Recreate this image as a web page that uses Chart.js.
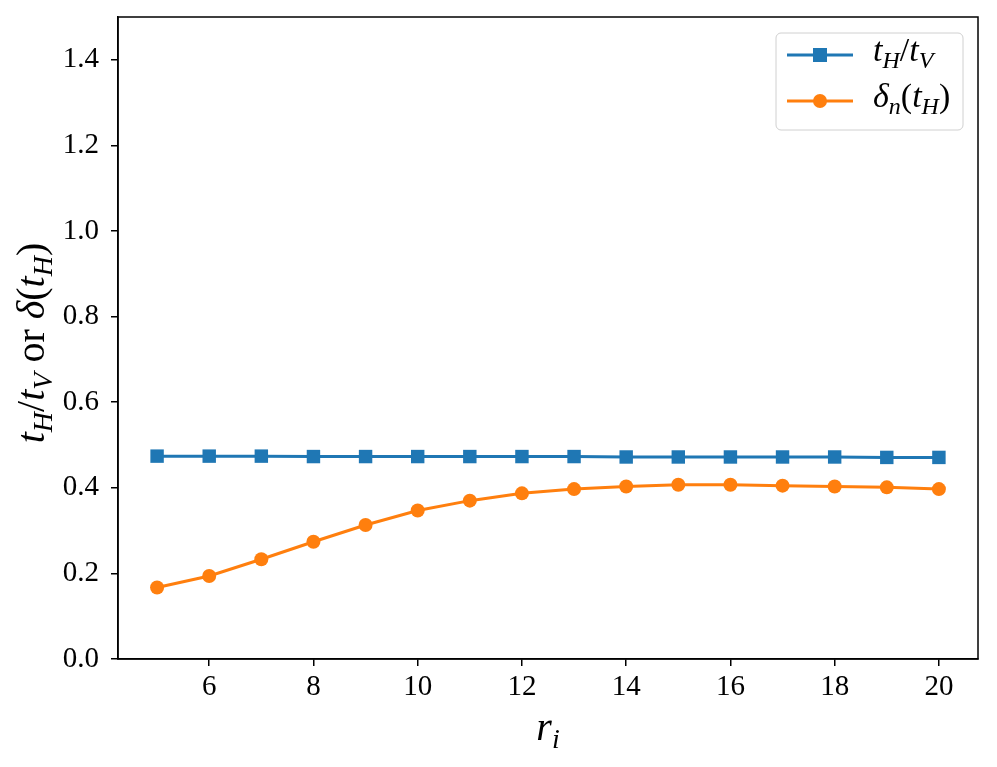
<!DOCTYPE html>
<html>
<head>
<meta charset="utf-8">
<script src="https://cdn.jsdelivr.net/npm/chart.js@4.4.1/dist/chart.umd.min.js"></script>
<style>
  html, body { margin: 0; padding: 0; background: #fff; }
</style>
</head>
<body>
<canvas id="chart" width="997" height="767"></canvas>
<script>
// values
var rValues = [5, 6, 7, 8, 9, 10, 11, 12, 13, 14, 15, 16, 17, 18, 19, 20];
var ratioTV = [0.474, 0.474, 0.474, 0.473, 0.473, 0.473, 0.473, 0.473, 0.473, 0.472, 0.472, 0.472, 0.472, 0.472, 0.471, 0.471];
var deltaN = [0.167, 0.194, 0.233, 0.274, 0.313, 0.347, 0.370, 0.387, 0.397, 0.403, 0.407, 0.407, 0.405, 0.403, 0.401, 0.397];
var xTicks = [6, 8, 10, 12, 14, 16, 18, 20];
var yTicks = [0, 0.2, 0.4, 0.6, 0.8, 1.0, 1.2, 1.4];

var BLUE = "#1f77b4";
var ORANGE = "#ff7f0e";
var FONT = "'Liberation Serif', 'DejaVu Serif', serif";

function toPoints(xs, ys) {
    var pts = [];
    for (var i = 0; i < xs.length; i++) {
        pts.push({ x: xs[i], y: ys[i] });
    }
    return pts;
}

// text made of parts: [text, style] where style is "r", "i" or "si" (italic subscript)
function fontFor(style, size) {
    if (style == "si") return "italic " + Math.round(size * 0.7) + "px " + FONT;
    if (style == "i") return "italic " + size + "px " + FONT;
    return size + "px " + FONT;
}
function richWidth(ctx, parts, size) {
    var w = 0;
    parts.forEach(function (p) {
        ctx.font = fontFor(p[1], size);
        w += ctx.measureText(p[0]).width;
    });
    return w;
}
function drawRich(ctx, parts, x, y, size) {
    parts.forEach(function (p) {
        ctx.font = fontFor(p[1], size);
        var dy = p[1] == "si" ? size * 0.2 : 0;
        ctx.fillText(p[0], x, y + dy);
        x += ctx.measureText(p[0]).width;
    });
}

var yLabel = [["t", "i"], ["H", "si"], ["/", "r"], ["t", "i"], ["V", "si"], [" or ", "r"], ["δ", "i"], ["(", "r"], ["t", "i"], ["H", "si"], [")", "r"]];
var xLabel = [["r", "i"], ["i", "si"]];
var legendItems = [
    { color: BLUE, style: "rect", parts: [["t", "i"], ["H", "si"], ["/", "r"], ["t", "i"], ["V", "si"]] },
    { color: ORANGE, style: "circle", parts: [["δ", "i"], ["n", "si"], ["(", "r"], ["t", "i"], ["H", "si"], [")", "r"]] }
];

var decorations = {
    id: "decorations",
    beforeDraw: function (chart) {
        var ctx = chart.ctx;
        ctx.save();
        ctx.fillStyle = "#fff";
        ctx.fillRect(0, 0, chart.width, chart.height);
        ctx.restore();
    },
    afterDraw: function (chart) {
        var ctx = chart.ctx;
        var a = chart.chartArea;
        ctx.save();

        // frame
        ctx.strokeStyle = "#000";
        ctx.lineWidth = 1.5;
        ctx.strokeRect(a.left, a.top, a.right - a.left, a.bottom - a.top);

        ctx.fillStyle = "#000";
        ctx.textBaseline = "alphabetic";

        // x label
        var size = 40;
        var w = richWidth(ctx, xLabel, size);
        drawRich(ctx, xLabel, (a.left + a.right) / 2 - w / 2, 740, size);

        // y label (rotated)
        ctx.save();
        ctx.translate(44, 343);
        ctx.rotate(-Math.PI / 2);
        w = richWidth(ctx, yLabel, size);
        drawRich(ctx, yLabel, -w / 2, 0, size);
        ctx.restore();

        // legend
        var lx = 776, ly = 33, lw = 187, lh = 97;
        ctx.beginPath();
        ctx.roundRect(lx, ly, lw, lh, 5);
        ctx.fillStyle = "rgba(255,255,255,0.8)";
        ctx.fill();
        ctx.strokeStyle = "#d0d0d0";
        ctx.lineWidth = 1;
        ctx.stroke();

        legendItems.forEach(function (item, k) {
            var cy = 55 + k * 46;
            ctx.strokeStyle = item.color;
            ctx.lineWidth = 3;
            ctx.beginPath();
            ctx.moveTo(787, cy);
            ctx.lineTo(853, cy);
            ctx.stroke();
            ctx.fillStyle = item.color;
            if (item.style == "rect") {
                ctx.fillRect(820 - 7, cy - 7, 14, 14);
            } else {
                ctx.beginPath();
                ctx.arc(820, cy, 7, 0, Math.PI * 2);
                ctx.fill();
            }
            ctx.fillStyle = "#000";
            drawRich(ctx, item.parts, 873, cy + 6, 34);
        });

        ctx.restore();
    }
};

var ctx = document.getElementById("chart");

var data = {
    datasets: [
        {
            label: "tH/tV",
            data: toPoints(rValues, ratioTV),
            borderColor: BLUE,
            backgroundColor: BLUE,
            borderWidth: 3,
            pointStyle: "rect",
            pointRadius: 9.5,
            pointBorderWidth: 0,
            fill: false,
            tension: 0
        },
        {
            label: "δn(tH)",
            data: toPoints(rValues, deltaN),
            borderColor: ORANGE,
            backgroundColor: ORANGE,
            borderWidth: 3,
            pointStyle: "circle",
            pointRadius: 7,
            pointBorderWidth: 0,
            fill: false,
            tension: 0
        }
    ]
};

var tickFont = { family: FONT, size: 29 };

var options = {
    responsive: false,
    animation: false,
    layout: { padding: { left: 0, top: 17, right: 19, bottom: 0 } },
    plugins: {
        legend: { display: false },
        tooltip: { enabled: false }
    },
    scales: {
        x: {
            type: "linear",
            min: 4.25,
            max: 20.75,
            afterBuildTicks: function (scale) {
                scale.ticks = xTicks.map(function (v) { return { value: v }; });
            },
            afterFit: function (scale) {
                scale.height = 108;
                scale.paddingLeft = 0;
                scale.paddingRight = 0;
            },
            grid: { drawOnChartArea: false, drawTicks: true, tickLength: 7, color: "#000", lineWidth: 1.5 },
            border: { display: true, color: "#000", width: 1.5 },
            ticks: { color: "#000", font: tickFont, padding: 4, maxRotation: 0, autoSkip: false }
        },
        y: {
            type: "linear",
            min: 0,
            max: 1.5,
            afterBuildTicks: function (scale) {
                scale.ticks = yTicks.map(function (v) { return { value: v }; });
            },
            afterFit: function (scale) {
                scale.width = 118;
                scale.paddingTop = 0;
                scale.paddingBottom = 0;
            },
            grid: { drawOnChartArea: false, drawTicks: true, tickLength: 7, color: "#000", lineWidth: 1.5 },
            border: { display: true, color: "#000", width: 1.5 },
            ticks: {
                color: "#000",
                font: tickFont,
                padding: 12,
                autoSkip: false,
                callback: function (v) { return v.toFixed(1); }
            }
        }
    }
};

var chart = new Chart(ctx, {
    type: "line",
    data: data,
    options: options,
    plugins: [decorations]
});
</script>
</body>
</html>
